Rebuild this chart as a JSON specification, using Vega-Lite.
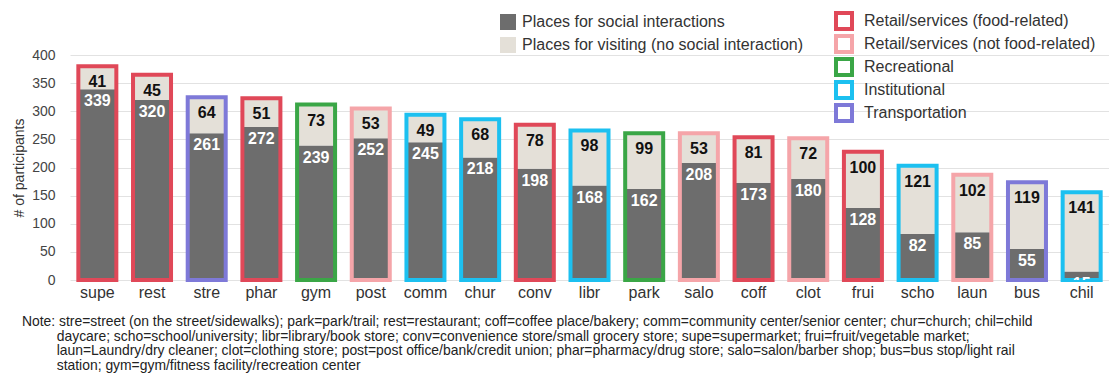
{
  "$schema": "https://vega.github.io/schema/vega-lite/v6.json",
  "autosize": "none",
  "padding": {"left": 70, "top": 55, "right": 0, "bottom": 102},
  "width": 1039,
  "height": 225,
  "background": "white",
  "config": {
    "view": {"stroke": null},
    "font": "Liberation Sans",
    "axisY": {
      "title": "# of participants",
      "titleFontSize": 14,
      "titleFontWeight": "normal",
      "titleColor": "#333333",
      "titlePadding": 5,
      "labelOverlap": false,
      "labelFontSize": 14,
      "labelColor": "#444444",
      "labelPadding": 15,
      "ticks": false,
      "domain": false,
      "grid": true,
      "gridColor": "#e2e2e2",
      "gridWidth": 1
    }
  },
  "title": {
    "text": [
      "Note: stre=street (on the street/sidewalks); park=park/trail; rest=restaurant; coff=coffee place/bakery; comm=community center/senior center; chur=church; chil=child",
      "\u200b\u00a0\u00a0\u00a0\u00a0\u00a0\u00a0\u00a0\u00a0\u00a0daycare; scho=school/university; libr=library/book store; conv=convenience store/small grocery store; supe=supermarket; frui=fruit/vegetable market;",
      "\u200b\u00a0\u00a0\u00a0\u00a0\u00a0\u00a0\u00a0\u00a0\u00a0laun=Laundry/dry cleaner; clot=clothing store; post=post office/bank/credit union; phar=pharmacy/drug store; salo=salon/barber shop; bus=bus stop/light rail",
      "\u200b\u00a0\u00a0\u00a0\u00a0\u00a0\u00a0\u00a0\u00a0\u00a0station; gym=gym/fitness facility/recreation center"
    ],
    "orient": "bottom",
    "anchor": "start",
    "frame": "group",
    "dx": -48,
    "offset": 15,
    "fontSize": 13.9,
    "fontWeight": "normal",
    "font": "Liberation Sans",
    "color": "#222222",
    "lineHeight": 14.6
  },
  "data": {
    "values": [
      {"place": "supe", "category": "Retail/services (food-related)", "type": "Places for social interactions", "n": 339},
      {"place": "supe", "category": "Retail/services (food-related)", "type": "Places for visiting (no social interaction)", "n": 41},
      {"place": "rest", "category": "Retail/services (food-related)", "type": "Places for social interactions", "n": 320},
      {"place": "rest", "category": "Retail/services (food-related)", "type": "Places for visiting (no social interaction)", "n": 45},
      {"place": "stre", "category": "Transportation", "type": "Places for social interactions", "n": 261},
      {"place": "stre", "category": "Transportation", "type": "Places for visiting (no social interaction)", "n": 64},
      {"place": "phar", "category": "Retail/services (food-related)", "type": "Places for social interactions", "n": 272},
      {"place": "phar", "category": "Retail/services (food-related)", "type": "Places for visiting (no social interaction)", "n": 51},
      {"place": "gym", "category": "Recreational", "type": "Places for social interactions", "n": 239},
      {"place": "gym", "category": "Recreational", "type": "Places for visiting (no social interaction)", "n": 73},
      {"place": "post", "category": "Retail/services (not food-related)", "type": "Places for social interactions", "n": 252},
      {"place": "post", "category": "Retail/services (not food-related)", "type": "Places for visiting (no social interaction)", "n": 53},
      {"place": "comm", "category": "Institutional", "type": "Places for social interactions", "n": 245},
      {"place": "comm", "category": "Institutional", "type": "Places for visiting (no social interaction)", "n": 49},
      {"place": "chur", "category": "Institutional", "type": "Places for social interactions", "n": 218},
      {"place": "chur", "category": "Institutional", "type": "Places for visiting (no social interaction)", "n": 68},
      {"place": "conv", "category": "Retail/services (food-related)", "type": "Places for social interactions", "n": 198},
      {"place": "conv", "category": "Retail/services (food-related)", "type": "Places for visiting (no social interaction)", "n": 78},
      {"place": "libr", "category": "Institutional", "type": "Places for social interactions", "n": 168},
      {"place": "libr", "category": "Institutional", "type": "Places for visiting (no social interaction)", "n": 98},
      {"place": "park", "category": "Recreational", "type": "Places for social interactions", "n": 162},
      {"place": "park", "category": "Recreational", "type": "Places for visiting (no social interaction)", "n": 99},
      {"place": "salo", "category": "Retail/services (not food-related)", "type": "Places for social interactions", "n": 208},
      {"place": "salo", "category": "Retail/services (not food-related)", "type": "Places for visiting (no social interaction)", "n": 53},
      {"place": "coff", "category": "Retail/services (food-related)", "type": "Places for social interactions", "n": 173},
      {"place": "coff", "category": "Retail/services (food-related)", "type": "Places for visiting (no social interaction)", "n": 81},
      {"place": "clot", "category": "Retail/services (not food-related)", "type": "Places for social interactions", "n": 180},
      {"place": "clot", "category": "Retail/services (not food-related)", "type": "Places for visiting (no social interaction)", "n": 72},
      {"place": "frui", "category": "Retail/services (food-related)", "type": "Places for social interactions", "n": 128},
      {"place": "frui", "category": "Retail/services (food-related)", "type": "Places for visiting (no social interaction)", "n": 100},
      {"place": "scho", "category": "Institutional", "type": "Places for social interactions", "n": 82},
      {"place": "scho", "category": "Institutional", "type": "Places for visiting (no social interaction)", "n": 121},
      {"place": "laun", "category": "Retail/services (not food-related)", "type": "Places for social interactions", "n": 85},
      {"place": "laun", "category": "Retail/services (not food-related)", "type": "Places for visiting (no social interaction)", "n": 102},
      {"place": "bus", "category": "Transportation", "type": "Places for social interactions", "n": 55},
      {"place": "bus", "category": "Transportation", "type": "Places for visiting (no social interaction)", "n": 119},
      {"place": "chil", "category": "Institutional", "type": "Places for social interactions", "n": 15},
      {"place": "chil", "category": "Institutional", "type": "Places for visiting (no social interaction)", "n": 141}
    ]
  },
  "encoding": {
    "x": {
      "field": "place",
      "type": "nominal",
      "sort": ["supe","rest","stre","phar","gym","post","comm","chur","conv","libr","park","salo","coff","clot","frui","scho","laun","bus","chil"],
      "scale": {"paddingInner": 0, "paddingOuter": 0},
      "axis": {
        "title": null,
        "labelAngle": 0,
        "labelFontSize": 16,
        "labelColor": "#333333",
        "labelPadding": 4,
        "ticks": false,
        "domain": false,
        "grid": false
      }
    }
  },
  "layer": [
    {
      "mark": {"type": "bar", "size": 38},
      "encoding": {
        "y": {
          "field": "n",
          "type": "quantitative",
          "stack": "zero",
          "scale": {"domain": [0, 400]},
          "axis": {"values": [0, 50, 100, 150, 200, 250, 300, 350, 400], "title": "# of participants"}
        },
        "fill": {
          "field": "type",
          "type": "nominal",
          "scale": {
            "domain": ["Places for social interactions", "Places for visiting (no social interaction)"],
            "range": ["#6d6d6d", "#e4e0d8"]
          },
          "legend": {
            "title": null,
            "orient": "none",
            "legendX": 430,
            "legendY": -41,
            "padding": 0,
            "symbolType": "square",
            "symbolSize": 256,
            "symbolStrokeWidth": 0,
            "labelFontSize": 16,
            "labelColor": "#333333",
            "labelOffset": 6,
            "labelLimit": 0,
            "rowPadding": 7
          }
        },
        "order": {"field": "type", "sort": "ascending"}
      }
    },
    {
      "mark": {"type": "bar", "size": 38, "fill": "white", "fillOpacity": 0, "strokeWidth": 4},
      "encoding": {
        "y": {"aggregate": "sum", "field": "n", "type": "quantitative", "stack": null, "axis": {"values": [0, 50, 100, 150, 200, 250, 300, 350, 400], "title": "# of participants"}},
        "stroke": {
          "field": "category",
          "type": "nominal",
          "scale": {
            "domain": ["Retail/services (food-related)", "Retail/services (not food-related)", "Recreational", "Institutional", "Transportation"],
            "range": ["#e04858", "#f5a5a9", "#3aa646", "#1cc0f0", "#7e79d8"]
          },
          "legend": {
            "title": null,
            "orient": "none",
            "legendX": 764,
            "legendY": -44,
            "padding": 0,
            "symbolType": "square",
            "symbolSize": 256,
            "symbolStrokeWidth": 4,
            "symbolFillColor": "white",
            "labelFontSize": 16,
            "labelColor": "#333333",
            "labelOffset": 10,
            "labelLimit": 0,
            "clipHeight": 20,
            "rowPadding": 3
          }
        }
      }
    },
    {
      "transform": [{"filter": "datum.type === 'Places for social interactions'"}],
      "mark": {"type": "text", "baseline": "top", "dy": 4, "fontSize": 16, "fontWeight": "bold", "font": "Liberation Sans", "color": "white", "clip": true},
      "encoding": {
        "y": {"field": "n", "type": "quantitative", "axis": {"values": [0, 50, 100, 150, 200, 250, 300, 350, 400], "title": "# of participants"}},
        "text": {"field": "n", "type": "quantitative"}
      }
    },
    {
      "transform": [
        {"joinaggregate": [{"op": "sum", "field": "n", "as": "total"}], "groupby": ["place"]},
        {"filter": "datum.type === 'Places for visiting (no social interaction)'"}
      ],
      "mark": {"type": "text", "baseline": "top", "dy": 8, "fontSize": 16, "fontWeight": "bold", "font": "Liberation Sans", "color": "#111111", "clip": true},
      "encoding": {
        "y": {"field": "total", "type": "quantitative", "axis": {"values": [0, 50, 100, 150, 200, 250, 300, 350, 400], "title": "# of participants"}},
        "text": {"field": "n", "type": "quantitative"}
      }
    }
  ]
}
